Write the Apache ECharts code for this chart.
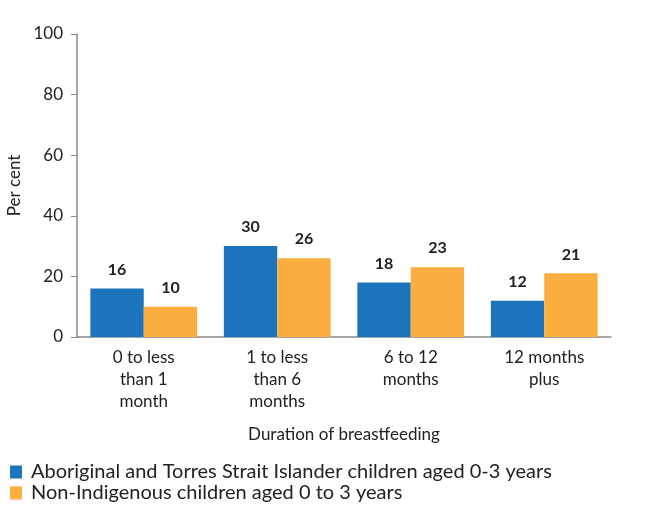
<!DOCTYPE html>
<html><head><meta charset="utf-8">
<script src="https://cdn.jsdelivr.net/npm/echarts@6/dist/echarts.min.js"></script>
<style>html,body{margin:0;padding:0;background:#fff}#c{width:659px;height:509px}</style>
</head><body><div id="c"></div>
<script>
var categories = ['0 to less\nthan 1\nmonth', '1 to less\nthan 6\nmonths', '6 to 12\nmonths', '12 months\nplus'];
var seriesNames = ['Aboriginal and Torres Strait Islander children aged 0-3 years', 'Non-Indigenous children aged 0 to 3 years'];
var aboriginal = [16, 30, 18, 12];
var nonIndigenous = [10, 26, 23, 21];
var yTicks = [0, 20, 40, 60, 80, 100];

var font = 'Lato, "Open Sans", sans-serif';
var chart = echarts.init(document.getElementById('c'));
function lbl() { return { show: true, position: 'top', distance: 11, fontFamily: font, fontWeight: 'bold', fontSize: 16, color: '#222' }; }
chart.setOption({
  animation: false,
  textStyle: { fontFamily: font },
  grid: { left: 77, right: 48, top: 34, bottom: 172, containLabel: false, outerBoundsMode: 'none' },
  legend: {
    orient: 'vertical', left: 10, top: 462, padding: 0, itemWidth: 12, itemHeight: 13, itemGap: 1,
    icon: 'rect', textStyle: { fontSize: 20, lineHeight: 20, color: '#222', fontFamily: font, padding: [0, 0, 0, 4] },
    data: seriesNames
  },
  xAxis: {
    type: 'category', data: categories,
    name: 'Duration of breastfeeding', nameLocation: 'middle', nameGap: 89,
    nameTextStyle: { fontSize: 17, color: '#222', fontFamily: font },
    axisLine: { lineStyle: { color: '#888', width: 1.5 } },
    axisTick: { show: false },
    axisLabel: { fontSize: 17, color: '#222', lineHeight: 22, margin: 10, fontFamily: font }
  },
  yAxis: {
    type: 'value', min: 0, max: 100, interval: 20,
    name: 'Per cent', nameLocation: 'middle', nameGap: 52, nameRotate: 90,
    nameTextStyle: { fontSize: 17, color: '#222', fontFamily: font },
    axisLine: { show: true, lineStyle: { color: '#888', width: 1.5 } },
    axisTick: { show: true, length: 6, lineStyle: { color: '#888' } },
    splitLine: { show: false },
    axisLabel: { fontSize: 17, color: '#222', margin: 14, fontFamily: font,
      formatter: function (v) { return yTicks.indexOf(v) >= 0 ? String(v) : ''; } }
  },
  series: [
    { name: seriesNames[0], type: 'bar', data: aboriginal, barGap: '0%', barCategoryGap: '20%',
      itemStyle: { color: '#1C75BC' }, label: lbl() },
    { name: seriesNames[1], type: 'bar', data: nonIndigenous,
      itemStyle: { color: '#FBAD3F' }, label: lbl() }
  ]
});
</script></body></html>
